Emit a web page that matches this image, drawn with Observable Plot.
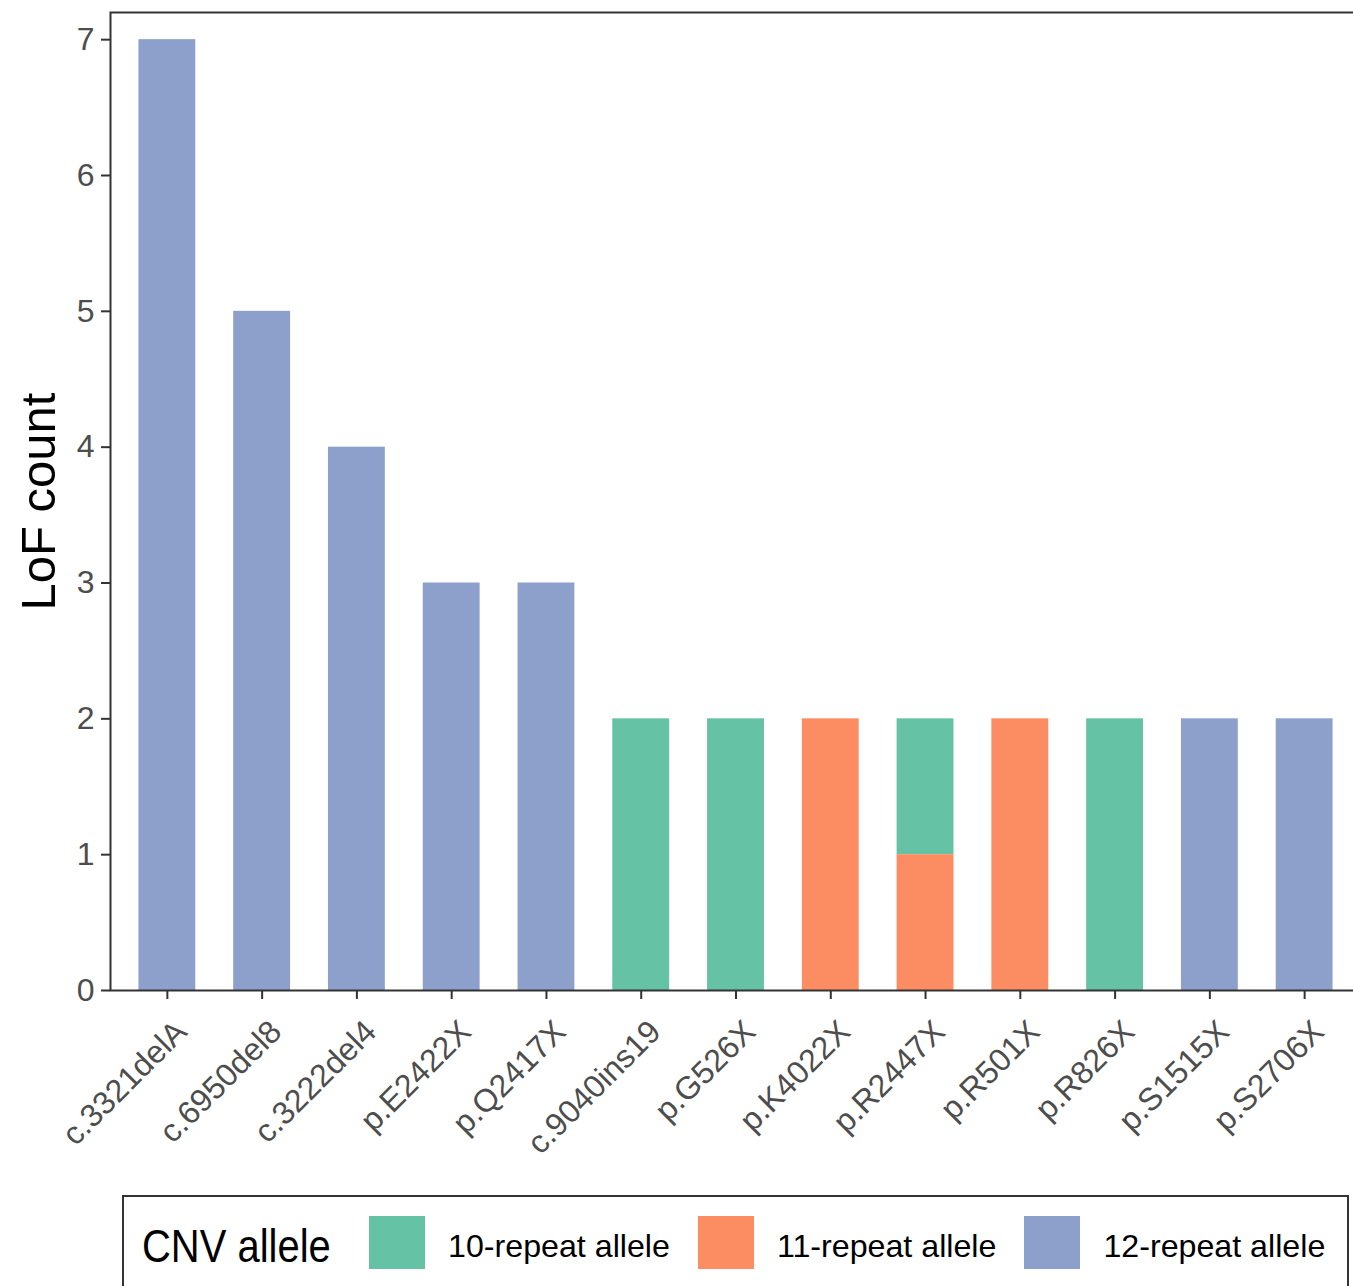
<!DOCTYPE html>
<html>
<head>
<meta charset="utf-8">
<script src="https://cdn.jsdelivr.net/npm/d3@7"></script>
<script src="https://cdn.jsdelivr.net/npm/@observablehq/plot@0.6"></script>
<style>
  html, body { margin: 0; padding: 0; background: #fff; overflow: hidden; }
  #wrap { position: relative; width: 1353px; height: 1286px; font-family: "Liberation Sans", Arial, sans-serif; }
  #chart svg { display: block; }
  g[aria-label="y-axis label"] text { fill: #000; }
  #legend {
    position: absolute; left: 122px; top: 1195px; width: 1227px; height: 100px;
    border: 2px solid #333; box-sizing: border-box;
    display: flex; align-items: flex-start; padding-top: 19px; padding-left: 18px;
    font-family: "Liberation Sans", Arial, sans-serif; color: #000;
  }
  #legend > div { flex-shrink: 0; }
  #legend .title { font-size: 47px; line-height: 53px; width: 188px; margin-right: 39px; position: relative; top: 3px; white-space: nowrap; }
  #legend .title span { display: inline-block; transform: scaleX(0.85); transform-origin: left center; }
  #legend .sw { width: 56px; height: 53px; margin-right: 23px; }
  #legend .lab { font-size: 32.2px; line-height: 53px; margin-right: 28px; position: relative; top: 4px; white-space: nowrap; }
</style>
</head>
<body>
<div id="wrap">
  <div id="chart"></div>
  <div id="legend"></div>
</div>
<script>
// Loss-of-function variants, ordered as on the axis
const variants = ["c.3321delA", "c.6950del8", "c.3222del4", "p.E2422X", "p.Q2417X",
  "c.9040ins19", "p.G526X", "p.K4022X", "p.R2447X", "p.R501X", "p.R826X", "p.S1515X", "p.S2706X"];

// CNV allele groups and their colours
const alleles = ["10-repeat allele", "11-repeat allele", "12-repeat allele"];
const alleleColors = ["#66C2A5", "#FC8D62", "#8DA0CB"];

// LoF counts per variant, one array per allele
const count10 = [0, 0, 0, 0, 0, 2, 2, 0, 1, 0, 2, 0, 0];
const count11 = [0, 0, 0, 0, 0, 0, 0, 2, 1, 2, 0, 0, 0];
const count12 = [7, 5, 4, 3, 3, 0, 0, 0, 0, 0, 0, 2, 2];

const yTicks = [0, 1, 2, 3, 4, 5, 6, 7];

// long table for stacking
const series = [count10, count11, count12];
const rows = [];
alleles.forEach((a, i) => {
  variants.forEach((v, j) => {
    if (series[i][j] > 0) rows.push({variant: v, allele: a, count: series[i][j]});
  });
});

const font = "'Liberation Sans', Arial, sans-serif";

const chart = Plot.plot({
  width: 1353,
  height: 1190,
  marginLeft: 110,
  marginTop: 12,
  marginBottom: 200,
  marginRight: -8,
  style: {fontFamily: font, background: "#fff"},
  x: {domain: variants, paddingInner: 0.4, paddingOuter: 0.3, round: false, label: null},
  y: {domain: [0, 7.2], label: null},
  color: {domain: alleles, range: alleleColors},
  marks: [
    Plot.barY(rows, Plot.stackY({
      x: "variant", y: "count", fill: "allele",
      order: "fill", reverse: true
    })),
    Plot.frame({stroke: "#333", strokeWidth: 2}),
    Plot.axisY({
      ticks: yTicks, tickSize: 9, tickPadding: 7, tickFormat: d3.format("d"),
      fontSize: 32, color: "#4D4D4D", stroke: "#333", strokeWidth: 2,
      label: "LoF count", labelAnchor: "center", labelArrow: "none", labelOffset: 90
    }),
    // x tick marks
    Plot.axisX({
      tickSize: 9, tickFormat: () => "", stroke: "#333", strokeWidth: 2, label: null
    }),
    // rotated x tick labels
    Plot.axisX({
      tickSize: 0, tickPadding: 0, tickRotate: -45, fontSize: 32,
      color: "#4D4D4D", dx: 14, dy: 36, label: null
    })
  ]
});
document.getElementById("chart").append(chart);

// y-axis title size
chart.querySelectorAll('g[aria-label="y-axis label"] text').forEach(t => t.setAttribute("font-size", 49));

// legend below the plot
const legend = document.getElementById("legend");
const title = document.createElement("div");
title.className = "title";
const tspan = document.createElement("span");
tspan.textContent = "CNV allele";
title.append(tspan);
legend.append(title);
alleles.forEach((a, i) => {
  const sw = document.createElement("div");
  sw.className = "sw";
  sw.style.background = alleleColors[i];
  const lab = document.createElement("div");
  lab.className = "lab";
  lab.textContent = a;
  legend.append(sw, lab);
});
</script>
</body>
</html>
